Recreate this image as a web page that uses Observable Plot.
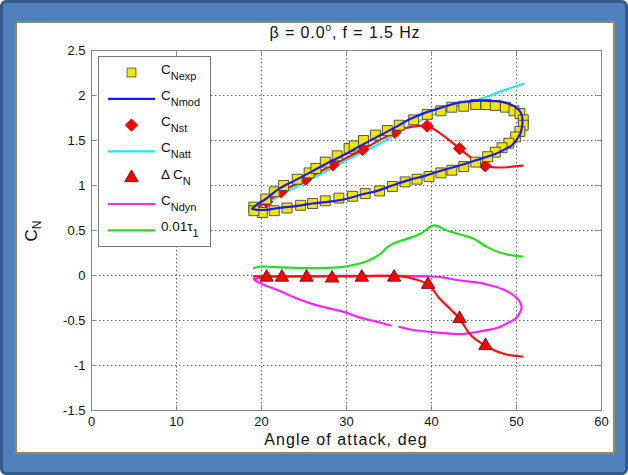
<!DOCTYPE html>
<html><head><meta charset="utf-8">
<script src="https://cdn.jsdelivr.net/npm/d3@7"></script>
<script src="https://cdn.jsdelivr.net/npm/@observablehq/plot@0.6"></script>
<style>
body{margin:0;background:#fff;}
#wrap{position:relative;width:628px;height:475px;overflow:hidden;font-family:"Liberation Sans",Arial,sans-serif;}
#outer{position:absolute;left:0;top:0;width:622px;height:469px;background:#4f81bd;border:3px solid #355b8a;border-radius:6px;}
#panel{position:absolute;left:15px;top:21px;width:596px;height:429px;background:#fff;border:2px solid #948a54;}
#chart{position:absolute;left:0;top:0;}
#overlay{position:absolute;left:0;top:0;}
</style></head>
<body>
<div id="wrap"><div id="outer"></div><div id="panel"></div><div id="chart"></div></div>
<script>
const xTicks = [0,10,20,30,40,50,60];
const yTicks = [-1.5,-1,-0.5,0,0.5,1,1.5,2,2.5];
const titleText = "β = 0.0";
const titleRest = ", f = 1.5 Hz";
const xLabel = "Angle of attack, deg";
const legendLabels = ["C","C","C","C","Δ C","C","0.01τ"];
const legendSubs = ["Nexp","Nmod","Nst","Natt","N","Ndyn","1"];

// C_N experimental (squares)
const expAlpha = [19.1,20.5,21.5,22.6,24.2,25.6,26.4,27.5,28.9,30.3,30.9,32.0,33.4,34.8,36.2,37.9,39.5,41.1,42.4,43.8,45.2,46.4,47.5,48.7,49.7,50.4,50.8,50.8,50.4,49.9,49.1,48.3,47.5,46.6,45.2,43.8,42.4,41.1,39.7,38.3,36.9,35.4,33.9,32.2,30.7,29.1,27.5,26.0,24.6,23.0,21.5,20.1,19.1];
const expCN    = [0.76,0.85,0.93,1.00,1.07,1.14,1.19,1.26,1.33,1.41,1.44,1.50,1.56,1.61,1.67,1.73,1.79,1.83,1.87,1.88,1.90,1.90,1.89,1.87,1.83,1.80,1.73,1.67,1.60,1.54,1.47,1.42,1.37,1.32,1.26,1.21,1.17,1.14,1.10,1.07,1.04,0.99,0.94,0.91,0.88,0.86,0.83,0.80,0.78,0.75,0.72,0.70,0.72];
// C_N model (blue)
const modAlpha = [18.9,19.5,20.5,22.0,24.0,26.0,28.0,29.9,32.0,34.2,36.0,37.3,39.3,41.3,43.2,45.2,46.8,48.3,49.3,49.9,50.5,50.7,50.5,50.1,49.5,48.6,47.5,45.2,43.2,41.3,39.3,37.3,35.4,33.6,31.8,29.9,28.0,26.0,24.0,22.0,20.5,19.4,18.9];
const modCN    = [0.74,0.79,0.85,0.96,1.06,1.16,1.26,1.35,1.46,1.57,1.66,1.73,1.81,1.87,1.92,1.94,1.94,1.93,1.90,1.87,1.81,1.74,1.59,1.52,1.45,1.40,1.35,1.28,1.22,1.17,1.11,1.06,1.00,0.94,0.90,0.85,0.82,0.80,0.77,0.75,0.73,0.73,0.74];
// C_N static (red line + diamonds)
const stAlpha = [19.1,20.6,22.3,25.2,28.4,31.9,33.8,35.7,37.3,39.5,41.3,43.3,44.8,46.3,47.9,50.7];
const stCN    = [0.74,0.82,0.93,1.07,1.23,1.40,1.50,1.59,1.645,1.66,1.56,1.41,1.30,1.22,1.20,1.22];
const stMarkAlpha = [20.6,22.3,25.2,28.4,31.9,35.7,39.5,43.3,46.3];
const stMarkCN    = [0.82,0.93,1.07,1.23,1.40,1.59,1.66,1.41,1.22];
// C_N attached (cyan)
const attAlpha = [19.1,22,25,28,31,34,37,40,42,44,46,48,50.8];
const attCN    = [0.74,0.88,1.03,1.18,1.33,1.47,1.64,1.78,1.85,1.91,1.97,2.04,2.13];
// Delta C_N (red line + triangles)
const dAlpha = [19.1,22,26,30,34,36.5,38.0,39.6,41.0,42.3,43.3,44.6,46.35,48.5,50.7];
const dCN    = [-0.01,-0.01,-0.01,-0.01,-0.005,-0.01,-0.04,-0.10,-0.26,-0.38,-0.48,-0.66,-0.78,-0.87,-0.90];
const dMarkAlpha = [20.6,22.4,25.3,28.3,31.8,35.6,39.6,43.3,46.35];
const dMarkCN    = [-0.02,-0.02,-0.02,-0.03,-0.02,-0.02,-0.10,-0.48,-0.78];
// C_N dynamic (magenta)
const dynAlpha = [19.1,20.5,24,28,32,36,39.5,41.3,43.0,45.5,46.5,48.3,49.5,50.3,50.6,50.5,50.0,49.1,47.8,46.35,43.6,40.1,37.5,36.2,NaN,35.2,33.4,31.3,29.9,27.7,25.96,24.0,22.0,20.47,19.5,19.1];
const dynCN    = [-0.04,-0.015,-0.01,-0.005,-0.005,-0.005,-0.01,-0.02,-0.05,-0.08,-0.1,-0.15,-0.21,-0.28,-0.35,-0.39,-0.47,-0.52,-0.58,-0.61,-0.65,-0.63,-0.60,-0.57,NaN,-0.556,-0.51,-0.46,-0.41,-0.36,-0.315,-0.25,-0.167,-0.111,-0.07,-0.04];
// 0.01 tau_1 (green)
const tauAlpha = [19.1,19.9,21.45,25.4,29.3,30.9,32.4,34.0,34.8,35.6,37.1,38.7,40.3,41.8,43.4,45.0,46.55,48.1,50.1,50.7];
const tauVal   = [0.081,0.10,0.093,0.081,0.093,0.119,0.159,0.241,0.315,0.359,0.407,0.463,0.556,0.50,0.456,0.407,0.315,0.252,0.215,0.211];

const rows = (xs, ys) => xs.map((x, i) => ({x, y: ys[i]}));
const lineOpts = (stroke) => ({x: "x", y: "y", stroke, strokeWidth: 2.2, curve: "catmull-rom"});

const chart = Plot.plot({
  width: 628, height: 475,
  marginLeft: 91, marginRight: 27, marginTop: 50, marginBottom: 65,
  style: {background: "transparent", fontFamily: '"Liberation Sans", Arial, sans-serif', fontSize: "13px", color: "#111", overflow: "visible"},
  x: {domain: [0, 60], label: null},
  y: {domain: [-1.5, 2.5], label: null},
  marks: [
    Plot.gridX(xTicks, {stroke: "#333", strokeOpacity: 0.75, strokeDasharray: "1.5,2.5"}),
    Plot.gridY(yTicks, {stroke: "#333", strokeOpacity: 0.75, strokeDasharray: "1.5,2.5"}),
    Plot.line(rows(tauAlpha, tauVal), lineOpts("#22e022")),
    Plot.line(rows(dynAlpha, dynCN), lineOpts("#ff22ff")),
    Plot.line(rows(dAlpha, dCN), lineOpts("#ff1010")),
    Plot.line(rows(attAlpha, attCN), lineOpts("#22e8f0")),
    Plot.line(rows(stAlpha, stCN), lineOpts("#ff1010")),
    Plot.dot(rows(stMarkAlpha, stMarkCN), {x: "x", y: "y", symbol: "diamond2", r: 5.6, fill: "#ff0000", stroke: "#c00000", strokeWidth: 0.8}),
    Plot.dot(rows(expAlpha, expCN), {x: "x", y: "y", symbol: "square", r: 5.6, fill: "#f2e600", stroke: "#444", strokeWidth: 0.9}),
    Plot.line(rows(modAlpha, modCN), lineOpts("#1a1aff")),
    Plot.dot(rows(dMarkAlpha, dMarkCN), {x: "x", y: "y", symbol: "triangle", r: 5, fill: "#ff0000", stroke: "#600000", strokeWidth: 0.8}),
    Plot.frame({stroke: "#888"}),
    Plot.axisX(xTicks, {anchor: "bottom", tickSize: -5, tickPadding: 11, tickFormat: d => String(d), stroke: "#888", label: null}),
    Plot.axisX(xTicks, {anchor: "top", tickSize: -5, tickFormat: () => "", stroke: "#888", label: null}),
    Plot.axisY(yTicks, {anchor: "left", tickSize: -5, tickPadding: 11, tickFormat: d => String(d), stroke: "#888", label: null}),
    Plot.axisY(yTicks, {anchor: "right", tickSize: -5, tickFormat: () => "", stroke: "#888", label: null})
  ]
});
document.getElementById("chart").appendChild(chart);

// overlay: title, axis labels, legend
const svg = d3.select("#wrap").append("svg").attr("id", "overlay")
  .attr("width", 628).attr("height", 475)
  .style("font-family", '"Liberation Sans", Arial, sans-serif');

const t = svg.append("text").attr("x", 345).attr("y", 38).attr("text-anchor", "middle")
  .attr("font-size", 16).attr("fill", "#111").attr("letter-spacing", 0.9);
t.append("tspan").text(titleText);
t.append("tspan").attr("font-size", 10).attr("dy", -7).text("o");
t.append("tspan").attr("dy", 7).text(titleRest);

svg.append("text").attr("x", 346).attr("y", 445).attr("text-anchor", "middle")
  .attr("font-size", 16).attr("fill", "#111").attr("letter-spacing", 1.1).text(xLabel);

const yl = svg.append("text").attr("transform", "translate(37,231) rotate(-90)")
  .attr("text-anchor", "middle").attr("font-size", 17).attr("fill", "#111");
yl.append("tspan").text("C");
yl.append("tspan").attr("font-size", 12).attr("dy", 4).text("N");

// legend
const lg = svg.append("g");
lg.append("rect").attr("x", 98.5).attr("y", 56.5).attr("width", 112).attr("height", 190)
  .attr("fill", "#fff").attr("stroke", "#777");
const legendKinds = [
  {kind: "square", fill: "#f2e600", stroke: "#444"},
  {kind: "line", stroke: "#1a1aff"},
  {kind: "diamond2", fill: "#ff0000", stroke: "#c00000"},
  {kind: "line", stroke: "#22e8f0"},
  {kind: "triangle", fill: "#ff0000", stroke: "#600000"},
  {kind: "line", stroke: "#ff22ff"},
  {kind: "line", stroke: "#22e022"}
];
const symMap = {square: d3.symbolSquare, diamond2: d3.symbolDiamond2, triangle: d3.symbolTriangle};
const symR = {square: 5, diamond2: 5.6, triangle: 5};
legendKinds.forEach((k, i) => {
  const cy = 72.5 + i * 26.3;
  if (k.kind === "line") {
    lg.append("line").attr("x1", 108).attr("x2", 155).attr("y1", cy).attr("y2", cy)
      .attr("stroke", k.stroke).attr("stroke-width", 2.2);
  } else {
    const r = symR[k.kind];
    lg.append("path").attr("transform", `translate(131.5,${cy})`)
      .attr("d", d3.symbol(symMap[k.kind], Math.PI * r * r)())
      .attr("fill", k.fill).attr("stroke", k.stroke).attr("stroke-width", 0.8);
  }
  const tx = lg.append("text").attr("x", 161).attr("y", cy + 1).attr("font-size", 13.5).attr("fill", "#111");
  tx.append("tspan").text(legendLabels[i]);
  tx.append("tspan").attr("font-size", 11).attr("dy", 6).text(legendSubs[i]);
});
</script>
</body></html>
